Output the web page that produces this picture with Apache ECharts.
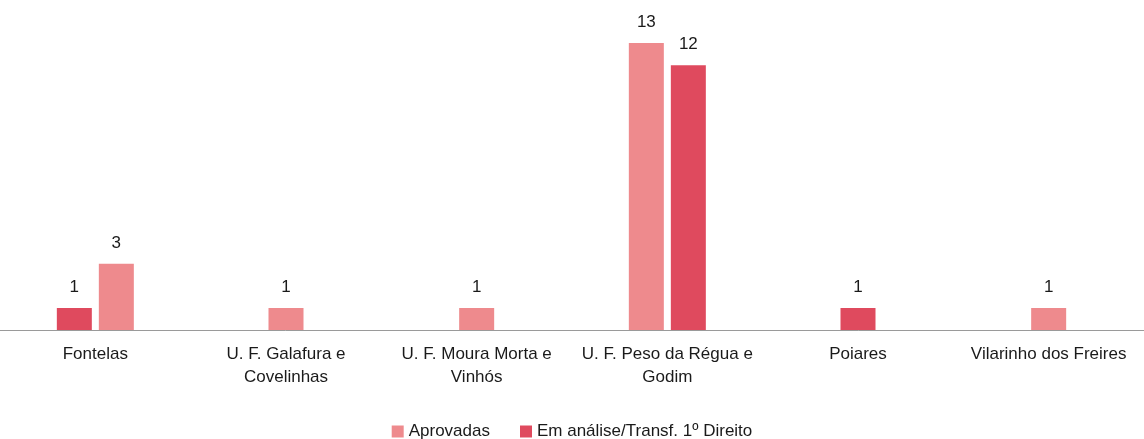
<!DOCTYPE html>
<html>
<head>
<meta charset="utf-8">
<script src="https://cdn.jsdelivr.net/npm/echarts@6/dist/echarts.min.js"></script>
<style>
  html, body { margin: 0; padding: 0; background: #fff; }
  #grafico { width: 1144px; height: 439px; }
</style>
</head>
<body>
<div id="grafico"></div>
<script>
const categorias = ['Fontelas', 'U. F. Galafura e\nCovelinhas', 'U. F. Moura Morta e\nVinhós', 'U. F. Peso da Régua e\nGodim', 'Poiares', 'Vilarinho dos Freires'];
const aprovadas = [3, 1, 1, 13, 0, 1];
const emAnalise = [1, 0, 0, 12, 1, 0];
const vermelhoAntes = [true, false, false, false, false, false]; // em Fontelas a barra vermelha vem primeiro

const nomeA = 'Aprovadas';
const nomeE = 'Em análise/Transf. 1º Direito';
const corA = '#ee8a8d';
const corE = '#df4a5e';

let myChart = echarts.init(document.getElementById('grafico'));

// filtra os valores de uma serie segundo a regra do eixo
function filtra(arr, regra) {
  return arr.map(function (v, i) { return (v && regra(i)) ? v : '-'; });
}
const par = function (i) { return aprovadas[i] > 0 && emAnalise[i] > 0; };
const parVermelho = function (i) { return par(i) && vermelhoAntes[i]; };
const parRosa = function (i) { return par(i) && !vermelhoAntes[i]; };
const sozinha = function (i) { return !par(i); };

let rotulo = {
  show: true,
  position: 'top',
  distance: 12,
  color: '#1a1a1a',
  fontFamily: 'Liberation Sans',
  fontSize: 17
};

function barra(nome, cor, dados, eixo, gap) {
  return {
    name: nome,
    type: 'bar',
    xAxisIndex: eixo,
    barWidth: 35,
    barGap: gap,
    itemStyle: { color: cor },
    label: rotulo,
    data: dados
  };
}

let eixoX = function (visivel) {
  return {
    type: 'category',
    data: categorias,
    show: visivel,
    axisTick: { show: false },
    axisLine: { lineStyle: { color: '#9a9a9a', width: 1 } },
    axisLabel: {
      interval: 0,
      margin: 13,
      color: '#1a1a1a',
      fontFamily: 'Liberation Sans',
      fontSize: 17,
      lineHeight: 23
    }
  };
};

myChart.setOption({
  backgroundColor: '#ffffff',
  animation: false,
  grid: { left: -5, right: -21, top: 21, bottom: 109 },
  legend: {
    data: [nomeA, nomeE],
    left: 'center',
    top: 418,
    icon: 'rect',
    itemWidth: 12,
    itemHeight: 12,
    itemGap: 30,
    textStyle: { color: '#1a1a1a', fontFamily: 'Liberation Sans', fontSize: 17 }
  },
  xAxis: [eixoX(true), eixoX(false), eixoX(false)],
  yAxis: { type: 'value', show: false, min: 0, max: 14 },
  series: [
    barra(nomeE, corE, filtra(emAnalise, parVermelho), 0, '20%'),
    barra(nomeA, corA, filtra(aprovadas, parVermelho), 0, '20%'),
    barra(nomeA, corA, filtra(aprovadas, parRosa), 1, '20%'),
    barra(nomeE, corE, filtra(emAnalise, parRosa), 1, '20%'),
    barra(nomeA, corA, filtra(aprovadas, sozinha), 2, '-100%'),
    barra(nomeE, corE, filtra(emAnalise, sozinha), 2, '-100%')
  ]
});
</script>
</body>
</html>
